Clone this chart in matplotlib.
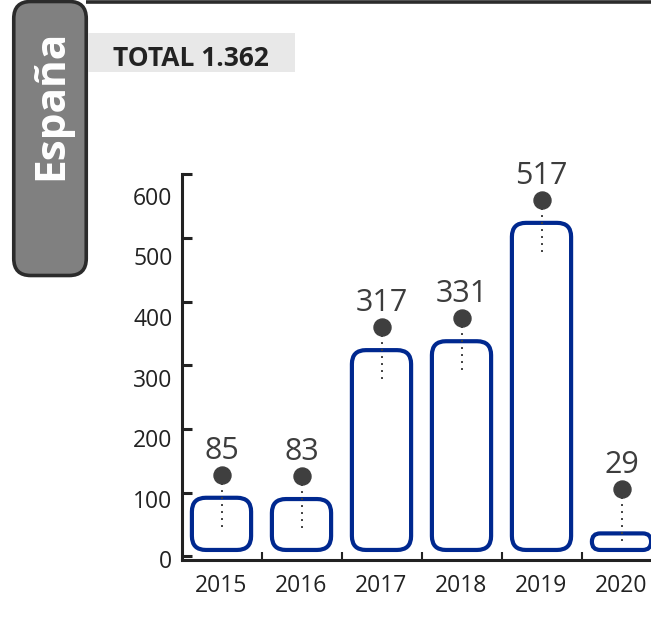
import numpy as np
import matplotlib.pyplot as plt
from matplotlib.patches import FancyBboxPatch, Rectangle

# ── Data ───────────────────────────────────────────────────────
years = ["2015", "2016", "2017", "2018", "2019", "2020"]
values = np.array([85, 83, 317, 331, 517, 29])
y_ticks = [0, 100, 200, 300, 400, 500, 600]
title_tab = "España"
total_label = "TOTAL 1.362"

# ── Style ──────────────────────────────────────────────────────
plt.rcParams["font.family"] = ["Open Sans", "DejaVu Sans"]
BLUE = "#00288f"
DARK = "#222222"
DOT = "#3f3f3f"

W, H = 651, 641
fig = plt.figure(figsize=(W / 100, H / 100), dpi=100)

# overlay in pixel coords for the frame decorations
ov = fig.add_axes([0, 0, 1, 1], zorder=0)
ov.set_xlim(0, W)
ov.set_ylim(H, 0)
ov.axis("off")

tab = FancyBboxPatch((13.75, 1.5), 72.5, 274, boxstyle="round,pad=0,rounding_size=17",
                     facecolor="#808080", edgecolor="#2b2b2b", linewidth=2.6)
ov.add_patch(tab)
ov.plot([86, W], [1.5, 1.5], color="#2b2b2b", linewidth=2.6, solid_capstyle="butt")
ov.text(62, 105, title_tab, rotation=90, rotation_mode="anchor", ha="center", va="baseline",
        color="white", fontsize=30.5, fontweight="bold")

ov.add_patch(Rectangle((88, 33), 207, 39, facecolor="#e8e8e8", edgecolor="none"))
ov.text(113, 65.5, total_label, ha="left", va="baseline", color=DARK,
        fontsize=19, fontweight="bold")

# ── Bar chart ──────────────────────────────────────────────────
x0_px, y0_px, ytop_px = 181.5, 559.5, 174.5
step_px = 80
ax = fig.add_axes([x0_px / W, (H - y0_px) / H, 6 * step_px / W, (y0_px - ytop_px) / H],
                  zorder=1)
ax.set_facecolor("none")
ax.set_xlim(-0.5, 5.5)
ax.set_ylim(0, 600)

px_x = step_px
px_y = (y0_px - ytop_px) / 600
aspect = px_x / px_y

bar_w = 0.74
base = 10
for i, v in enumerate(values):
    h = v - 3
    r_px = min(14, h * px_y / 2)
    bar = FancyBboxPatch((i - bar_w / 2, base), bar_w, h,
                         boxstyle=f"round,pad=0,rounding_size={r_px / px_x}",
                         mutation_aspect=aspect, facecolor="white", edgecolor=BLUE,
                         linewidth=3, zorder=2, clip_on=False)
    ax.add_patch(bar)

dot_y = np.maximum(values + 43, 106)
xs = np.arange(len(years))
ax.vlines(xs, dot_y - 82, dot_y, colors=DOT, linestyles=(0, (1, 2.6)), linewidth=1.4, zorder=3)
ax.scatter(xs, dot_y, s=150, color=DOT, zorder=4, clip_on=False)
for x, y, v in zip(xs, dot_y, values):
    ax.annotate(str(v), (x, y), xytext=(0, 17.5), textcoords="offset points",
                ha="center", va="center", fontsize=22, color="#3d3d3d")

# axes lines and ticks
for s in ["top", "right"]:
    ax.spines[s].set_visible(False)
for s in ["left", "bottom"]:
    ax.spines[s].set_linewidth(2.2)
    ax.spines[s].set_color(DARK)

ax.set_xticks(np.arange(0.5, 5, 1))
ax.set_xticklabels([])
ax.set_xticks(xs, minor=True)
ax.set_xticklabels(years, minor=True)
ax.tick_params(axis="x", which="major", direction="in", length=6, width=1.5, color=DARK)
ax.tick_params(axis="x", which="minor", length=0, pad=10.5, labelsize=16.5, labelcolor=DARK)

ax.set_yticks(y_ticks)
ax.set_yticklabels([])
ax.set_yticks(np.arange(len(y_ticks)) * 95.3 - 5, minor=True)
ax.set_yticklabels([str(t) for t in y_ticks], minor=True)
ax.tick_params(axis="y", which="major", direction="in", length=7.5, width=2.2, color=DARK)
ax.tick_params(axis="y", which="minor", length=0, pad=6.5, labelsize=16.5, labelcolor=DARK)

plt.savefig("out.png", dpi=100)
